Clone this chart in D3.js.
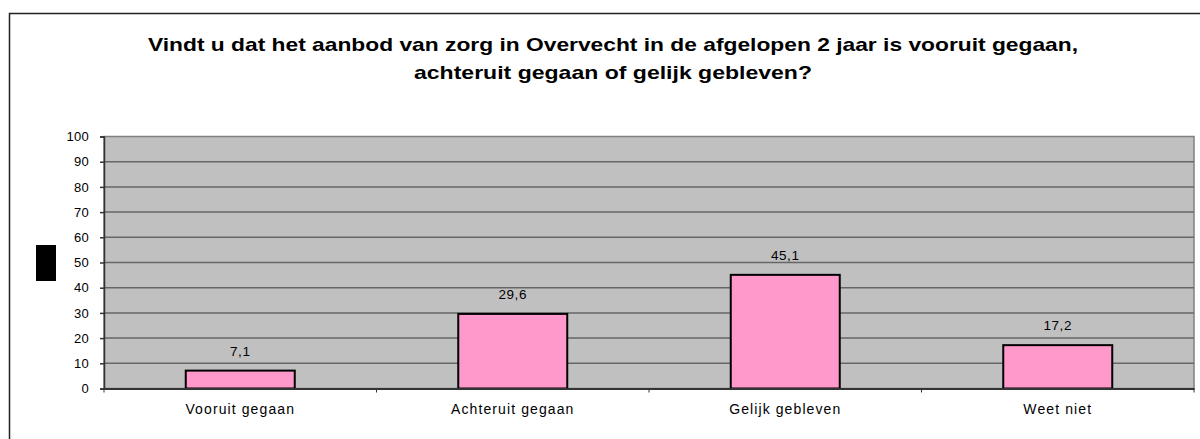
<!DOCTYPE html>
<html><head><meta charset="utf-8">
<script src="https://cdn.jsdelivr.net/npm/d3@7"></script>
<style>body{margin:0;background:#fff}svg{display:block}text{font-family:"Liberation Sans",Arial,sans-serif}</style>
</head><body>
<script>
const categories = ["Vooruit gegaan", "Achteruit gegaan", "Gelijk gebleven", "Weet niet"];
const values = [7.1, 29.6, 45.1, 17.2];
const valueLabels = ["7,1", "29,6", "45,1", "17,2"];
const yTicks = [0,10,20,30,40,50,60,70,80,90,100];
const titleLines = ["Vindt u dat het aanbod van zorg in Overvecht in de afgelopen 2 jaar is vooruit gegaan,", "achteruit gegaan of gelijk gebleven?"];

const W = 1200, H = 439;
const svg = d3.select("body").append("svg").attr("width", W).attr("height", H);

// outer frame
svg.append("rect").attr("x", 9.5).attr("y", 13.5).attr("width", 1220).attr("height", 460)
  .attr("fill", "#fff").attr("stroke", "#222").attr("stroke-width", 1.5);

// title
const titleY = [51, 79], titleLen = [930, 398];
titleLines.forEach((t, i) => {
  svg.append("text").attr("x", 613).attr("y", titleY[i]).attr("text-anchor", "middle")
    .attr("font-size", 19).attr("font-weight", "bold").attr("fill", "#000")
    .attr("textLength", titleLen[i]).attr("lengthAdjust", "spacingAndGlyphs").text(t);
});

const pLeft = 104, pRight = 1194, pTop = 136.5, pBottom = 388.5;
const x = d3.scaleBand().domain(categories).range([pLeft, pRight]).paddingInner(0).paddingOuter(0);
const y = d3.scaleLinear().domain([0, 100]).range([pBottom, pTop]);

// plot bg
svg.append("rect").attr("x", pLeft).attr("y", pTop).attr("width", pRight - pLeft).attr("height", pBottom - pTop)
  .attr("fill", "#c0c0c0").attr("stroke", "#808080").attr("stroke-width", 1.5);

// gridlines
svg.append("g").selectAll("line").data(yTicks.filter(d => d > 0 && d < 100)).join("line")
  .attr("x1", pLeft).attr("x2", pRight).attr("y1", d => y(d)).attr("y2", d => y(d))
  .attr("stroke", "#666").attr("stroke-width", 1.5);

// y axis
const yAxis = svg.append("g").attr("transform", `translate(${pLeft},0)`)
  .call(d3.axisLeft(y).tickValues(yTicks).tickSize(4).tickPadding(11).tickFormat(d3.format("d")));
yAxis.select(".domain").attr("stroke", "#333").attr("stroke-width", 1.5);
yAxis.selectAll(".tick line").attr("stroke", "#333").attr("stroke-width", 1.5);
yAxis.selectAll("text").attr("font-size", 13).attr("fill", "#000").attr("letter-spacing", "0.3px")
  .attr("font-family", '"Liberation Sans",Arial,sans-serif');

// bars
const bw = x.bandwidth() * 0.4;
svg.append("g").selectAll("rect").data(categories).join("rect")
  .attr("x", d => x(d) + (x.bandwidth() - bw) / 2)
  .attr("y", (d, i) => y(values[i]))
  .attr("width", bw)
  .attr("height", (d, i) => pBottom - y(values[i]))
  .attr("fill", "#ff99cc").attr("stroke", "#000").attr("stroke-width", 2);

// x axis
const xAxis = svg.append("g").attr("transform", `translate(0,${pBottom})`)
  .call(d3.axisBottom(x).tickSize(0).tickPadding(16));
xAxis.select(".domain").attr("stroke", "#333").attr("stroke-width", 2);
xAxis.selectAll("text").attr("font-size", 14).attr("fill", "#000").attr("letter-spacing", "1.1px")
  .attr("font-family", '"Liberation Sans",Arial,sans-serif');
// band boundary ticks
const bounds = categories.map(d => x(d)).concat([pRight]);
svg.append("g").selectAll("line").data(bounds).join("line")
  .attr("x1", d => d).attr("x2", d => d).attr("y1", pBottom).attr("y2", pBottom + 4)
  .attr("stroke", "#333").attr("stroke-width", 1);

// value labels
svg.append("g").selectAll("text").data(categories).join("text")
  .attr("x", d => x(d) + x.bandwidth() / 2)
  .attr("y", (d, i) => y(values[i]) - 15)
  .attr("text-anchor", "middle").attr("font-size", 13.5).attr("letter-spacing", "0.6px").attr("fill", "#000")
  .text((d, i) => valueLabels[i]);

// black box
svg.append("rect").attr("x", 36).attr("y", 245).attr("width", 20).attr("height", 36).attr("fill", "#000");
</script>
</body></html>
